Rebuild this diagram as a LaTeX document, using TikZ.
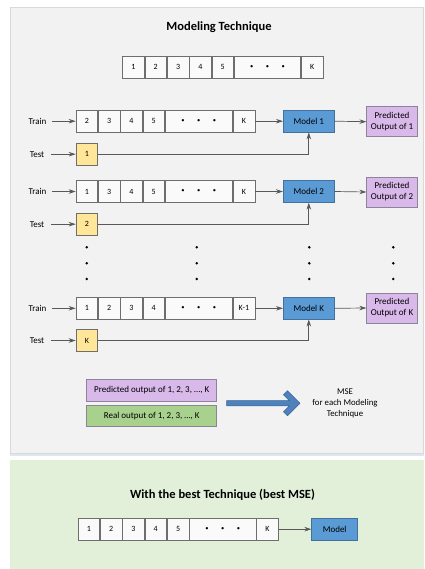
\documentclass[tikz,border=0pt]{standalone}
\usepackage{fontspec}
\setmainfont{Carlito}
\usetikzlibrary{arrows.meta}
\definecolor{panelgray}{HTML}{F2F2F2}
\definecolor{panelline}{HTML}{D9D9D9}
\definecolor{panelgreen}{HTML}{E2EFD9}
\definecolor{shadowblue}{HTML}{DDE7F3}
\definecolor{cellline}{HTML}{6E6E6E}
\definecolor{modelfill}{HTML}{5B9BD5}
\definecolor{modelline}{HTML}{41719C}
\definecolor{predfill}{HTML}{D9B8EA}
\definecolor{predline}{HTML}{8E8499}
\definecolor{testfill}{HTML}{FFE699}
\definecolor{realfill}{HTML}{A9D18E}
\definecolor{bigarrow}{HTML}{4F81BD}
\definecolor{bigarrowline}{HTML}{3A6596}
\definecolor{conn}{HTML}{595959}
\tikzset{
  x=1pt, y=-1pt,
  cellbox/.style={draw=cellline, fill=white!60!panelgray, line width=0.6pt, minimum height=21.8pt, inner sep=0pt, anchor=west, font=\fontsize{8}{8}\selectfont},
  testbox/.style={cellbox, fill=testfill, minimum width=21.7pt},
  modelbox/.style={draw=modelline, fill=modelfill, line width=0.6pt, minimum width=51pt, minimum height=21.7pt, inner sep=0pt, font=\fontsize{9}{9}\selectfont},
  predbox/.style={draw=predline, fill=predfill, line width=0.6pt, minimum width=50.6pt, minimum height=30pt, inner sep=0pt, align=center, font=\fontsize{9}{11}\selectfont},
  sidelabel/.style={font=\fontsize{9}{9}\selectfont, inner sep=0pt},
  titletext/.style={font=\bfseries\fontsize{12.5}{14}\selectfont, inner sep=0pt},
  arr/.style={draw=conn, line width=0.7pt, -{Stealth[length=7pt,width=4.5pt]}},
  vdot/.style={circle, fill=black, inner sep=0pt, minimum size=2.8pt},
}
\newcommand{\smalldot}{\raisebox{0.2pt}{\fontsize{6.5}{6.5}\selectfont\textbullet}}
\newcommand{\dotsrow}{\smalldot\hspace{12.5pt}\smalldot\hspace{12.5pt}\smalldot}
\begin{document}
\begin{tikzpicture}
\useasboundingbox (0,0) rectangle (424,569);
% panels
\fill[shadowblue] (10,452) rectangle (424,455.5);
\filldraw[fill=panelgray, draw=panelline, line width=0.6pt] (10,7) rectangle (423,453);
\fill[panelgreen] (10,460) rectangle (424,569);

\node[titletext] (title1) at (219,27) {Modeling Technique};

% top row
\node[cellbox, minimum width=21.7pt] (t1) at (122.3,67) {1};
\node[cellbox, minimum width=21.7pt] (t2) at (t1.east) {2};
\node[cellbox, minimum width=21.7pt] (t3) at (t2.east) {3};
\node[cellbox, minimum width=21.7pt] (t4) at (t3.east) {4};
\node[cellbox, minimum width=21.7pt] (t5) at (t4.east) {5};
\node[cellbox, minimum width=66.6pt] (td) at (t5.east) {\dotsrow};
\node[cellbox, minimum width=21.7pt] (tk) at (td.east) {K};

% ---------- row 1
\node[sidelabel] (train1) at (37.5,121.2) {Train};
\node[cellbox, minimum width=21.7pt] (a1) at (75.7,121.2) {2};
\node[cellbox, minimum width=21.7pt] (a2) at (a1.east) {3};
\node[cellbox, minimum width=21.7pt] (a3) at (a2.east) {4};
\node[cellbox, minimum width=21.7pt] (a4) at (a3.east) {5};
\node[cellbox, minimum width=67.3pt] (ad) at (a4.east) {\dotsrow};
\node[cellbox, minimum width=21.7pt] (ak) at (ad.east) {K};
\node[modelbox] (m1) at (308.8,121.2) {Model 1};
\node[predbox] (p1) at (392,121.7) {Predicted\\Output of 1};
\node[sidelabel] (test1) at (37,154.2) {Test};
\node[testbox] (x1) at (75.7,154.2) {1};
\draw[arr] (train1.east) ++(5,0) coordinate (tr1s) -- (a1.west);
\draw[arr] (test1.east) ++(6.5,0) coordinate (te1s) -- (x1.west);
\draw[arr] (ak.east) -- (m1.west);
\draw[arr] (m1.east) -- (p1.west);
\draw[arr] (x1.east) -| (m1.south);

% ---------- row 2
\node[sidelabel] (train2) at (37.5,191.5) {Train};
\node[cellbox, minimum width=21.7pt] (b1) at (75.7,191.5) {1};
\node[cellbox, minimum width=21.7pt] (b2) at (b1.east) {3};
\node[cellbox, minimum width=21.7pt] (b3) at (b2.east) {4};
\node[cellbox, minimum width=21.7pt] (b4) at (b3.east) {5};
\node[cellbox, minimum width=67.3pt] (bd) at (b4.east) {\dotsrow};
\node[cellbox, minimum width=21.7pt] (bk) at (bd.east) {K};
\node[modelbox] (m2) at (308.8,191.5) {Model 2};
\node[predbox] (p2) at (392,192) {Predicted\\Output of 2};
\node[sidelabel] (test2) at (37,224.2) {Test};
\node[testbox] (x2) at (75.7,224.2) {2};
\draw[arr] (train2.east) ++(5,0) coordinate (tr2s) -- (b1.west);
\draw[arr] (test2.east) ++(6.5,0) coordinate (te2s) -- (x2.west);
\draw[arr] (bk.east) -- (m2.west);
\draw[arr] (m2.east) -- (p2.west);
\draw[arr] (x2.east) -| (m2.south);

% vertical dots
\foreach \xx [count=\i] in {86.7,196.7,309.3,393.3}{
  \node[vdot] (vd\i a) at (\xx,247.3) {};
  \node[vdot] (vd\i b) at (\xx,263.3) {};
  \node[vdot] (vd\i c) at (\xx,279) {};
}

% ---------- row K
\node[sidelabel] (traink) at (37.5,308.3) {Train};
\node[cellbox, minimum width=21.7pt] (c1) at (75.7,308.3) {1};
\node[cellbox, minimum width=21.7pt] (c2) at (c1.east) {2};
\node[cellbox, minimum width=21.7pt] (c3) at (c2.east) {3};
\node[cellbox, minimum width=21.7pt] (c4) at (c3.east) {4};
\node[cellbox, minimum width=67.3pt] (cd) at (c4.east) {\dotsrow};
\node[cellbox, minimum width=21.7pt] (ck) at (cd.east) {K-1};
\node[modelbox] (mk) at (308.8,308.3) {Model K};
\node[predbox] (pk) at (392,308) {Predicted\\Output of K};
\node[sidelabel] (testk) at (37,340.5) {Test};
\node[testbox] (xk) at (75.7,340.5) {K};
\draw[arr] (traink.east) ++(5,0) coordinate (trks) -- (c1.west);
\draw[arr] (testk.east) ++(6.5,0) coordinate (teks) -- (xk.west);
\draw[arr] (ck.east) -- (mk.west);
\draw[arr] (mk.east) -- (pk.west);
\draw[arr] (xk.east) -| (mk.south);

% ---------- MSE part
\node[draw=predline, fill=predfill, line width=0.6pt, minimum width=130pt, minimum height=22.4pt, inner sep=0pt, font=\fontsize{9}{9}\selectfont] (allpred) at (151.7,390.5) {Predicted output of 1, 2, 3, \dots, K};
\node[draw=predline, fill=realfill, line width=0.6pt, minimum width=130pt, minimum height=21.7pt, inner sep=0pt, font=\fontsize{9}{9}\selectfont] (allreal) at (151.7,415.8) {Real output of 1, 2, 3, \dots, K};
\filldraw[fill=bigarrow, draw=bigarrowline, line width=0.5pt, line join=miter]
  (226.7,400.7) -- (289.4,400.7) -- (283.5,394.8) -- (287.5,390.8) -- (300,403.3)
  -- (287.5,415.8) -- (283.5,411.8) -- (289.4,405.9) -- (226.7,405.9) -- cycle;
\node[align=center, font=\fontsize{8.8}{10.7}\selectfont, inner sep=0pt] (mse) at (345,403.3) {MSE\\for each Modeling\\Technique};

% ---------- bottom panel
\node[titletext] (title2) at (222.5,495) {With the best Technique (best MSE)};
\node[cellbox, minimum width=21.7pt] (d1) at (77.7,529.2) {1};
\node[cellbox, minimum width=21.7pt] (d2) at (d1.east) {2};
\node[cellbox, minimum width=21.7pt] (d3) at (d2.east) {3};
\node[cellbox, minimum width=21.7pt] (d4) at (d3.east) {4};
\node[cellbox, minimum width=21.7pt] (d5) at (d4.east) {5};
\node[cellbox, minimum width=66.6pt] (dd) at (d5.east) {\dotsrow};
\node[cellbox, minimum width=21.7pt] (dk) at (dd.east) {K};
\node[modelbox, minimum width=46pt] (mbest) at (334.7,529.2) {Model};
\draw[arr] (dk.east) -- (mbest.west);
\end{tikzpicture}
\end{document}
